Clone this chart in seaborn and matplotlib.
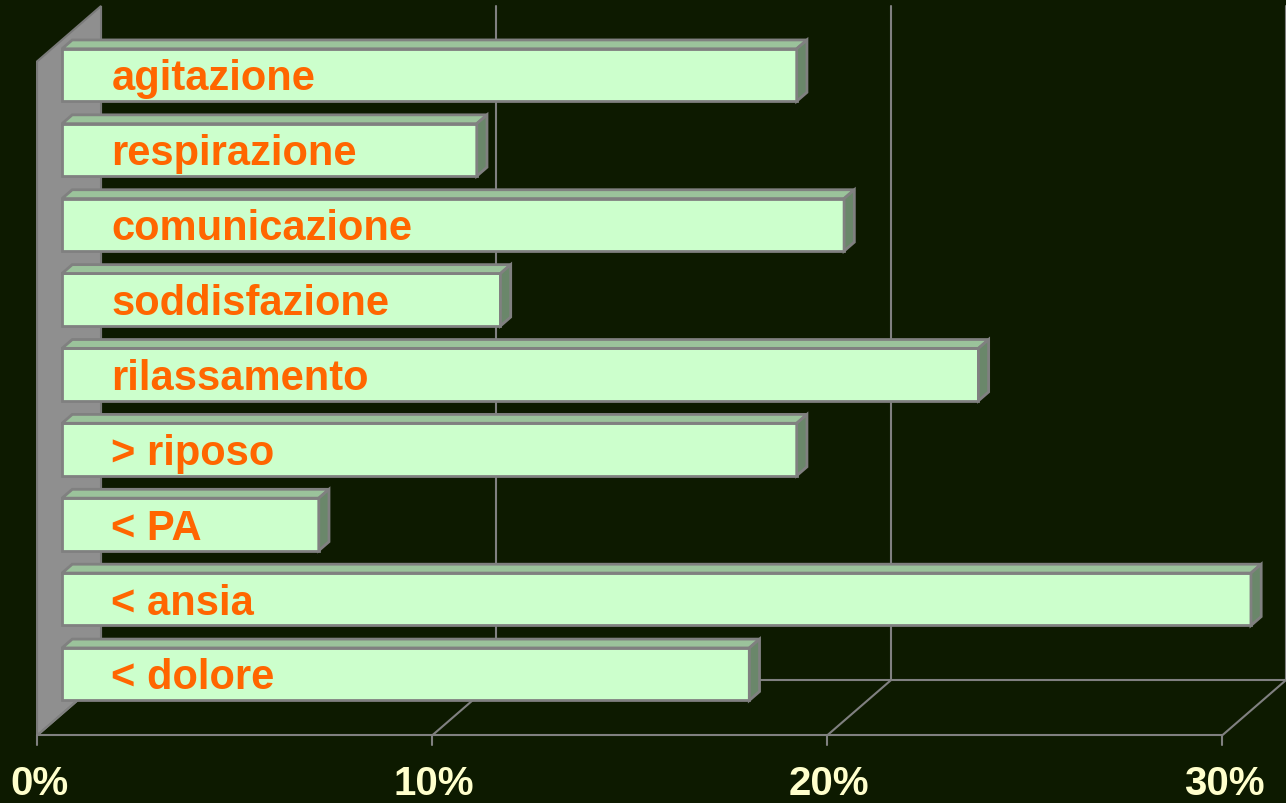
import matplotlib
matplotlib.use("Agg")
import matplotlib.pyplot as plt
from matplotlib.patches import Polygon
import numpy as np
import pandas as pd
import seaborn as sns

# dati (percentuali)
categorie = ["agitazione", "respirazione", "comunicazione", "soddisfazione",
             "rilassamento", "> riposo", "< PA", "< ansia", "< dolore"]
valori = [18.6, 10.5, 19.8, 11.1, 23.2, 18.6, 6.5, 30.1, 17.4]
tick_valori = [0, 10, 20, 30]
tick_etichette = ["0%", "10%", "20%", "30%"]

SFONDO = "#0d1a00"
GRIGIO = "#808080"

sns.set_theme(style="white")
plt.rcParams["font.family"] = ["Liberation Sans", "DejaVu Sans"]

df = pd.DataFrame({"categoria": categorie, "valore": valori})

fig = plt.figure(figsize=(12.86, 8.04), dpi=100)
fig.patch.set_facecolor(SFONDO)
ax = fig.add_axes([0, 0, 1, 1])
ax.set_facecolor(SFONDO)

sns.barplot(data=df, x="valore", y="categoria", orient="h", color="#ccffcc",
            edgecolor=GRIGIO, linewidth=2, width=0.7, saturation=1, ax=ax)
barre = list(ax.patches)

# proiezione 3D: spostamento per profondità piena (unità dati)
DX, DY = 1.62, -0.74
z_bar = 0.39
fx, fy = -z_bar * DX, -z_bar * DY            # piano frontale
bx, by = (1 - z_bar) * DX, (1 - z_bar) * DY  # piano di fondo
px, py = 0.16 * DX, 0.16 * DY                # profondità barra

n = len(categorie)
y_top, y_bot = -0.47, n - 0.47
xmax = tick_valori[-1]

# parete sinistra
parete = Polygon([(fx, y_top + fy), (bx, y_top + by), (bx, y_bot + by), (fx, y_bot + fy)],
                 closed=True, facecolor="#8f8f8f", edgecolor="#7a7a7a", lw=1.5, zorder=0)
ax.add_patch(parete)

# griglia: parete di fondo e pavimento
for t in tick_valori[1:]:
    ax.plot([t + bx, t + bx], [y_top + by, y_bot + by], color=GRIGIO, lw=1.5, zorder=0.5)
for t in tick_valori:
    ax.plot([t + fx, t + bx], [y_bot + fy, y_bot + by], color=GRIGIO, lw=1.5, zorder=0.5)
    ax.plot([t + fx, t + fx], [y_bot + fy, y_bot + fy + 0.13], color=GRIGIO, lw=1.5, zorder=0.5)
ax.plot([fx, xmax + fx], [y_bot + fy, y_bot + fy], color=GRIGIO, lw=1.5, zorder=0.5)
ax.plot([bx, xmax + bx], [y_bot + by, y_bot + by], color=GRIGIO, lw=1.5, zorder=0.5)

# facce superiori e laterali delle barre
for b in barre:
    x0, y0 = b.get_x(), b.get_y()
    w, h = b.get_width(), b.get_height()
    b.set_zorder(3)
    sopra = Polygon([(x0, y0), (x0 + w, y0), (x0 + w + px, y0 + py), (x0 + px, y0 + py)],
                    closed=True, facecolor="#9bc39b", edgecolor=GRIGIO, lw=2, zorder=3)
    lato = Polygon([(x0 + w, y0), (x0 + w + px, y0 + py), (x0 + w + px, y0 + h + py), (x0 + w, y0 + h)],
                   closed=True, facecolor="#6a876a", edgecolor=GRIGIO, lw=2, zorder=3)
    ax.add_patch(sopra)
    ax.add_patch(lato)

# etichette dentro le barre
for i, c in enumerate(categorie):
    ax.text(1.25, i + 0.19, c, color="#ff6600", fontsize=30, fontweight="bold",
            ha="left", va="baseline", zorder=5)

# etichette asse x
for t, lab in zip(tick_valori, tick_etichette):
    ax.text(t + fx + 0.05, 9.6, lab, color="#ffffcc", fontsize=29, fontweight="bold",
            ha="center", va="baseline", zorder=5)

ax.set_xlim(-62 / 39.5, 1224 / 39.5)
ax.set_ylim(9.72, -1.015)
ax.set_axis_off()

fig.savefig("out.png", dpi=100, facecolor=SFONDO)
